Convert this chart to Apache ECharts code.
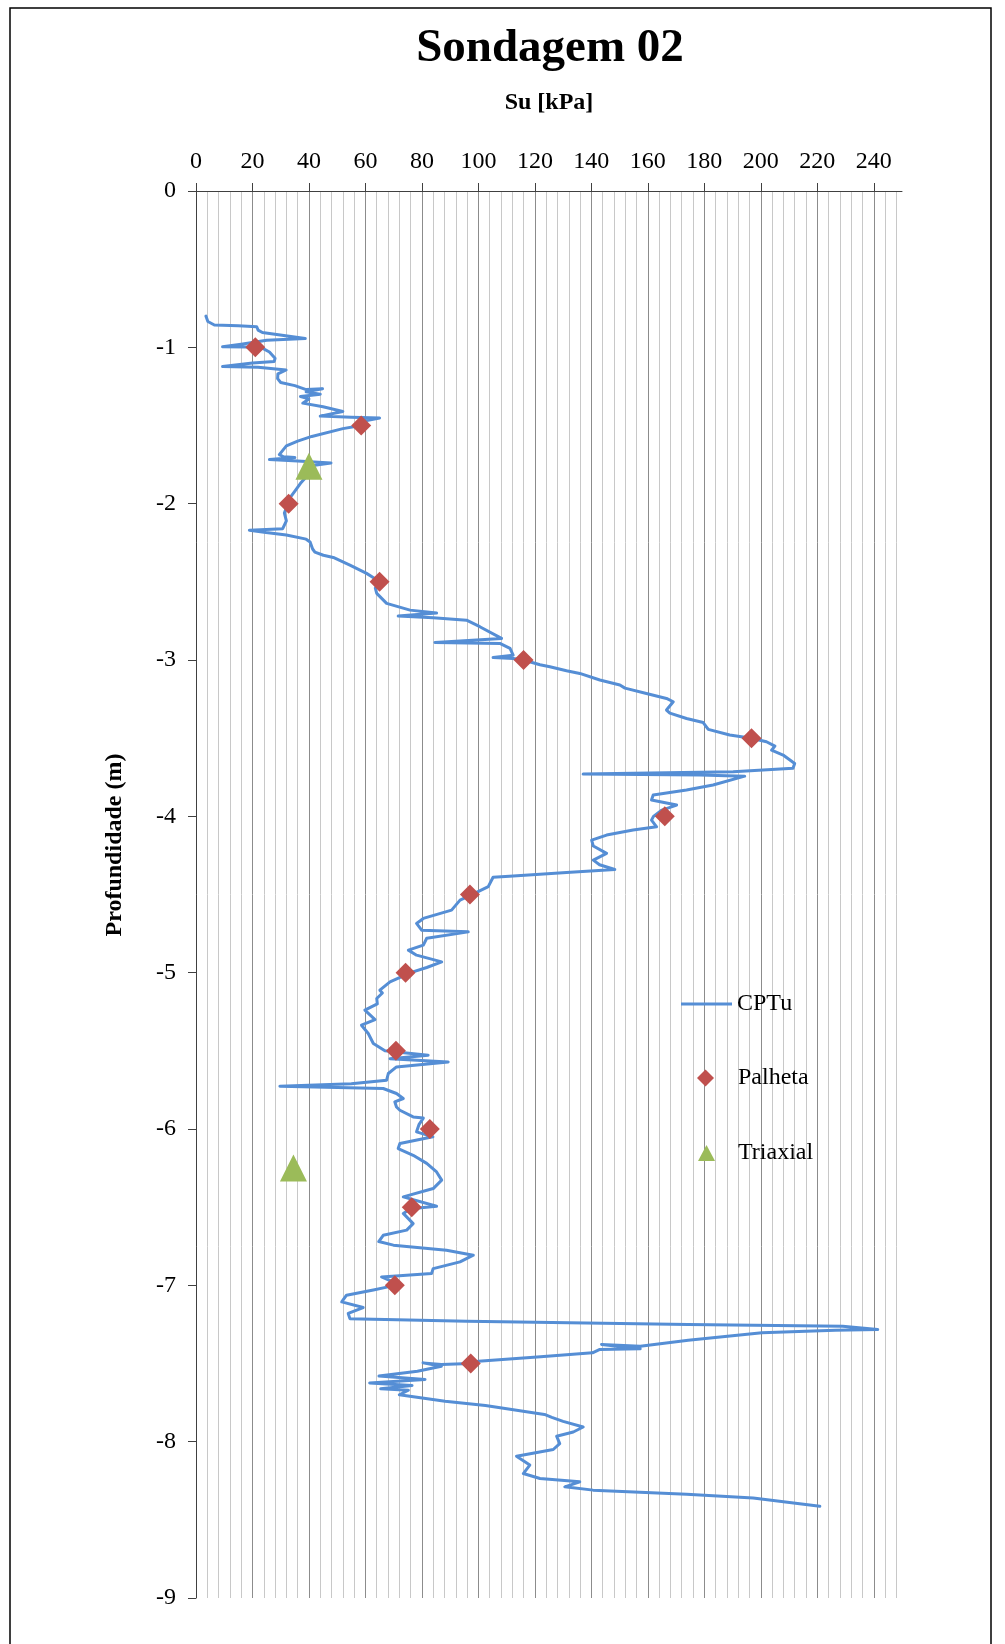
<!DOCTYPE html>
<html>
<head>
<meta charset="utf-8">
<title>Sondagem 02</title>
<script src="https://cdn.jsdelivr.net/npm/echarts@6/dist/echarts.min.js"></script>
<style>
  html, body { margin: 0; padding: 0; background: #fff; }
  #chart { width: 1005px; height: 1644px; }
</style>
</head>
<body>
<div id="chart"></div>
<script>
// eixo Su (kPa) - marcas principais
var suTicks = [0, 20, 40, 60, 80, 100, 120, 140, 160, 180, 200, 220, 240];

// CPTu - Su [kPa] x profundidade [m]
var cptuSu = [
  3.5, 4.2, 6.5, 15, 21.5, 22, 23.5, 38.7, 25, 16, 9.4, 18, 23, 26, 28, 27.7, 20, 9.4, 22, 31.9,
  29, 28.9, 30, 35, 39, 44.8, 39, 44, 37, 40, 37.8, 45, 52, 44, 55, 65, 60, 58.5, 52, 41,
  36, 32, 29.5, 31, 35, 26, 36, 47.8, 42, 40, 39.5, 37, 35.4, 33, 32.5, 31.3, 32, 30.7, 18.9, 24.8,
  32, 39, 40.4, 41.3, 42.1, 45.1, 48.6, 54.5, 60.4, 63, 65, 63.5, 64, 67.5, 75.8, 85.2, 71.6, 84, 95.8, 100.5,
  108.2, 84.6, 107.6, 111.2, 112.3, 105.2, 112.3, 116, 121.8, 125.3, 131.2, 135.9, 143, 150.1, 151.9, 159.5, 166.6, 169, 166.6, 167.8,
  173.7, 179.6, 181.4, 189, 196.7, 202, 205, 203.8, 207.9, 212, 211.4, 190.2, 137.1, 178.4, 194.3, 183.1, 173.7, 161.9, 161.3, 170.2,
  165, 162, 161.3, 163.1, 154.8, 145.4, 140.1, 140.7, 145.4, 140.7, 142.9, 148.3, 131.2, 111, 105.2, 103.5, 99, 93.5, 90.5, 80.5,
  78.1, 79.9, 96.4, 81.7, 80.5, 75.2, 78.1, 87, 81.7, 76, 68.7, 65.1, 66, 64, 64.2, 59.8, 63.4, 58.6, 61, 62.8,
  66.9, 82.2, 68.7, 89.3, 71, 68.1, 67.5, 55, 29.7, 66.3, 71, 73.4, 70.4, 71, 72.2, 76.9, 80.5, 79, 78.1, 83.9,
  72.2, 71.6, 76.9, 81.7, 85.2, 87, 84, 73.4, 85.2, 76, 73.4, 76.9, 74.6, 66.3, 64.7, 69.9, 88.7, 98.2, 93.5, 84,
  83.4, 65.7, 70, 68, 62.8, 53.3, 51.6, 59.2, 53.9, 54.5, 96, 174.3, 229, 241.4, 226.4, 200.4, 174.3, 157.3, 143.6, 157.3,
  143, 140.4, 122, 100, 97, 86.9, 80.4, 86.9, 78.4, 64.8, 81.1, 61.5, 76.5, 65.4, 75.2, 72, 88.2, 102.5, 123.4, 126,
  130, 137.1, 133.6, 127.7, 128.8, 126.5, 113.5, 118.2, 115.9, 121.8, 135.9, 130.6, 140.6, 173.7, 197.3, 220.9
];
var cptuDepth = [
  -0.80, -0.835, -0.857, -0.862, -0.868, -0.89, -0.905, -0.943, -0.955, -0.98, -0.996, -0.998, -1.0, -1.03, -1.07, -1.09, -1.10, -1.123, -1.128, -1.145,
  -1.17, -1.20, -1.225, -1.245, -1.27, -1.265, -1.285, -1.30, -1.315, -1.33, -1.357, -1.38, -1.41, -1.44, -1.447, -1.452, -1.47, -1.50, -1.52, -1.57,
  -1.60, -1.63, -1.686, -1.70, -1.705, -1.718, -1.727, -1.74, -1.755, -1.78, -1.82, -1.87, -1.91, -1.97, -2.0, -2.06, -2.11, -2.16, -2.17, -2.185,
  -2.20, -2.227, -2.245, -2.29, -2.31, -2.33, -2.344, -2.393, -2.446, -2.475, -2.5, -2.54, -2.574, -2.638, -2.681, -2.70, -2.719, -2.73, -2.745, -2.787,
  -2.862, -2.888, -2.894, -2.926, -2.969, -2.984, -2.99, -3.0, -3.03, -3.043, -3.069, -3.086, -3.128, -3.16, -3.18, -3.214, -3.246, -3.267, -3.32, -3.34,
  -3.374, -3.40, -3.444, -3.48, -3.5, -3.523, -3.551, -3.577, -3.608, -3.662, -3.693, -3.715, -3.73, -3.736, -3.743, -3.80, -3.832, -3.864, -3.896, -3.928,
  -3.96, -4.0, -4.024, -4.067, -4.088, -4.12, -4.152, -4.19, -4.237, -4.28, -4.31, -4.34, -4.36, -4.383, -4.39, -4.45, -4.49, -4.536, -4.60, -4.653,
  -4.685, -4.728, -4.739, -4.78, -4.824, -4.856, -4.888, -4.931, -4.967, -5.0, -5.059, -5.112, -5.13, -5.165, -5.20, -5.24, -5.30, -5.336, -5.389, -5.453,
  -5.50, -5.528, -5.55, -5.571, -5.603, -5.645, -5.688, -5.71, -5.726, -5.741, -5.773, -5.805, -5.826, -5.859, -5.88, -5.923, -5.93, -5.97, -6.018, -6.05,
  -6.093, -6.125, -6.168, -6.22, -6.275, -6.327, -6.381, -6.434, -6.494, -6.51, -6.54, -6.605, -6.647, -6.68, -6.72, -6.743, -6.776, -6.807, -6.85, -6.893,
  -6.925, -6.946, -6.98, -7.01, -7.03, -7.063, -7.106, -7.142, -7.18, -7.213, -7.229, -7.25, -7.261, -7.283, -7.287, -7.304, -7.351, -7.389, -7.378, -7.406,
  -7.41, -7.432, -7.457, -7.485, -7.5, -7.506, -7.496, -7.517, -7.549, -7.58, -7.602, -7.624, -7.64, -7.662, -7.671, -7.70, -7.741, -7.769, -7.826, -7.845,
  -7.87, -7.906, -7.938, -7.965, -8.012, -8.05, -8.093, -8.15, -8.204, -8.236, -8.257, -8.289, -8.31, -8.336, -8.36, -8.413
];

// ensaio de palheta
var palhetaSu = [21, 58.5, 32.8, 65, 116, 196.7, 166, 97, 74.2, 70.8, 82.8, 76.4, 70.4, 97.3];
var palhetaDepth = [-1, -1.5, -2, -2.5, -3, -3.5, -4, -4.5, -5, -5.5, -6, -6.5, -7, -7.5];

// triaxial
var triaxialSu = [40, 34.5];
var triaxialDepth = [-1.76, -6.25];

function pares(xs, ys) {
  var out = [];
  for (var i = 0; i < xs.length; i++) {
    out.push([xs[i], ys[i]]);
  }
  return out;
}

var fonte = '"Liberation Serif", "Times New Roman", serif';
var chart = echarts.init(document.getElementById('chart'));

var option = {
  animation: false,
  backgroundColor: '#fff',
  title: {
    text: 'Sondagem 02',
    left: 545,
    textAlign: 'center',
    top: 20,
    textStyle: { fontFamily: fonte, fontWeight: 'bold', fontSize: 47, color: '#000' }
  },
  grid: { left: 196, top: 191, width: 706, height: 1407 },
  legend: [
    {
      data: ['CPTu'],
      left: 676, top: 987,
      icon: 'rect', itemWidth: 51, itemHeight: 3,
      textStyle: { fontFamily: fonte, fontSize: 24, color: '#000' }
    },
    {
      data: ['Palheta'],
      left: 692, top: 1061,
      icon: 'diamond', itemWidth: 17, itemHeight: 17,
      textStyle: { fontFamily: fonte, fontSize: 24, color: '#000', padding: [0, 0, 0, 19] }
    },
    {
      data: ['Triaxial'],
      left: 693, top: 1136,
      icon: 'triangle', itemWidth: 17, itemHeight: 16,
      textStyle: { fontFamily: fonte, fontSize: 24, color: '#000', padding: [0, 0, 0, 18] }
    }
  ],
  xAxis: [
    {
      // eixo principal: rótulos e marcas de 20 em 20
      type: 'value',
      position: 'top',
      min: 0,
      max: 250,
      interval: 20,
      name: 'Su [kPa]',
      nameLocation: 'middle',
      nameGap: 76,
      nameTextStyle: { fontFamily: fonte, fontWeight: 'bold', fontSize: 24, color: '#000' },
      axisLine: { lineStyle: { color: '#404040', width: 1 } },
      axisTick: { customValues: suTicks, length: 8, lineStyle: { color: '#404040' } },
      axisLabel: { customValues: suTicks, margin: 17, fontFamily: fonte, fontSize: 24, color: '#000' },
      splitLine: { show: false },
      z: 5
    },
    {
      // só as linhas de grade, de 4 em 4
      type: 'value',
      position: 'bottom',
      min: 0,
      max: 250,
      interval: 4,
      axisLine: { show: false },
      axisTick: { show: false },
      axisLabel: { show: false },
      splitLine: {
        show: true,
        showMinLine: true,
        showMaxLine: false,
        lineStyle: { color: ['#8c8c8c', '#c8c8c8', '#c8c8c8', '#c8c8c8', '#c8c8c8'], width: 1 }
      }
    }
  ],
  yAxis: {
    type: 'value',
    min: -9,
    max: 0,
    interval: 1,
    axisLine: { show: true, lineStyle: { color: '#404040', width: 1 } },
    axisTick: { show: true, length: 8, lineStyle: { color: '#404040' } },
    axisLabel: { margin: 20, fontFamily: fonte, fontSize: 24, color: '#000' },
    splitLine: { show: false },
    z: 5
  },
  graphic: [
    {
      type: 'rect',
      shape: { x: 10, y: 8, width: 981, height: 1700 },
      style: { fill: 'none', stroke: '#000', lineWidth: 1.5 },
      silent: true
    },
    {
      type: 'text',
      x: 115,
      y: 845,
      rotation: Math.PI / 2,
      style: {
        text: 'Profundidade (m)',
        font: 'bold 24px "Liberation Serif", serif',
        fill: '#000',
        textAlign: 'center',
        textVerticalAlign: 'middle'
      }
    }
  ],
  series: [
    {
      name: 'CPTu',
      type: 'line',
      xAxisIndex: 0,
      data: pares(cptuSu, cptuDepth),
      showSymbol: false,
      symbol: 'none',
      color: '#558ED5',
      lineStyle: { color: '#558ED5', width: 3, cap: 'round', join: 'round' },
      z: 2
    },
    {
      name: 'Palheta',
      type: 'scatter',
      xAxisIndex: 0,
      data: pares(palhetaSu, palhetaDepth),
      symbol: 'diamond',
      symbolSize: 20,
      itemStyle: { color: '#C0504D', opacity: 1 },
      z: 3
    },
    {
      name: 'Triaxial',
      type: 'scatter',
      xAxisIndex: 0,
      data: pares(triaxialSu, triaxialDepth),
      symbol: 'triangle',
      symbolSize: 27,
      itemStyle: { color: '#9BBB59', opacity: 1 },
      z: 3
    }
  ]
};

chart.setOption(option);
</script>
</body>
</html>
